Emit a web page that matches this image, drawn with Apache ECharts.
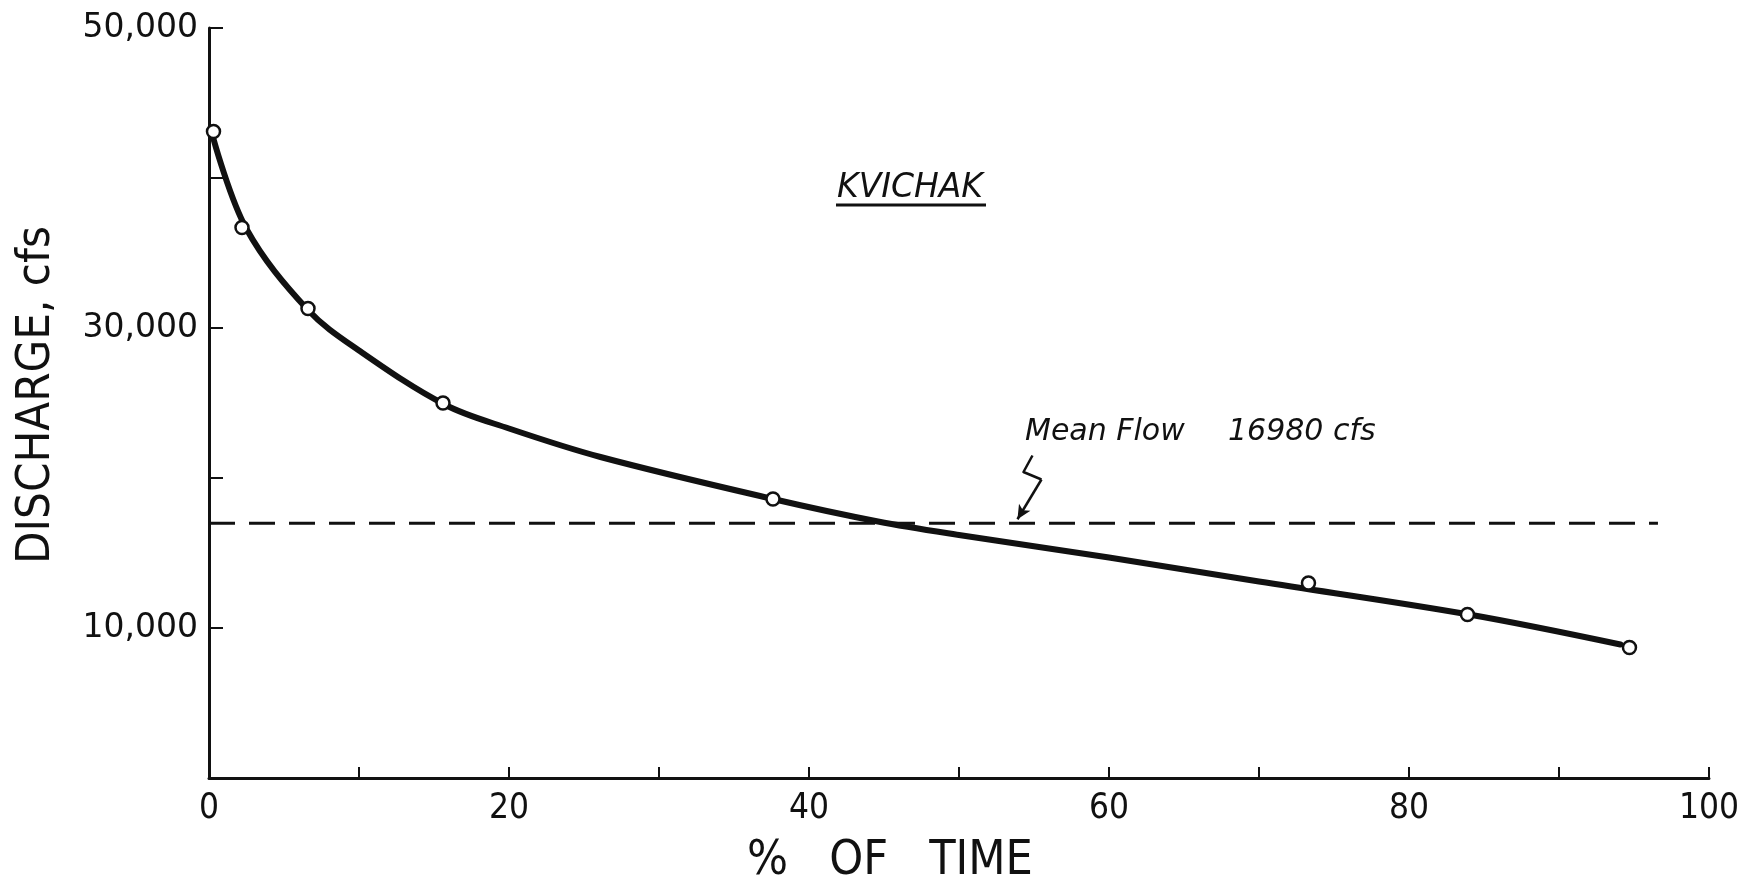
<!DOCTYPE html>
<html>
<head>
<meta charset="utf-8">
<script src="https://cdn.jsdelivr.net/npm/echarts@6/dist/echarts.min.js"></script>
<style>
  html, body { margin: 0; padding: 0; background: #ffffff; }
  #chart { width: 1742px; height: 887px; }
</style>
</head>
<body>
<div id="chart"></div>
<script>
// Observed points (% of time, discharge cfs)
const obsPercent = [0.3, 2.2, 6.6, 15.6, 37.6, 73.3, 83.9, 94.7];
const obsDischarge = [43100, 36700, 31300, 25000, 18600, 13000, 10900, 8700];

// Hand-drawn duration curve
const curvePercent = [0.3, 2.5, 6.6, 10, 15.7, 20, 26.1, 37.6, 44.6, 50, 60, 70, 84, 94.1];
const curveDischarge = [42600, 36600, 31200, 28500, 24900, 23300, 21400, 18600, 17100, 16200, 14700, 13100, 10900, 8900];

// Mean flow line
const meanFlow = 16980;
const meanFlowSpan = [0, 96.6];

// Arrow (squiggle) from label to mean-flow line
const arrowPercent = [54.9, 54.3, 55.5];
const arrowDischarge = [21500, 20400, 19900];
const arrowTip = [53.9, 17250];

// Tick labels
const xLabelValues = [0, 20, 40, 60, 80, 100];
const yLabelValues = [10000, 30000, 50000];
const yLabelTexts = ['10,000', '30,000', '50,000'];

const ink = '#111111';
const chart = echarts.init(document.getElementById('chart'), null, { renderer: 'canvas' });

const pairs = (xs, ys) => xs.map((x, i) => [x, ys[i]]);

const option = {
  backgroundColor: '#ffffff',
  animation: false,
  grid: { left: 209, right: 33, top: 28, bottom: 109, containLabel: false },
  xAxis: {
    type: 'value', min: 0, max: 100, interval: 10,
    axisLine: { show: true, lineStyle: { color: ink, width: 3 } },
    axisTick: { show: true, inside: true, length: 11, lineStyle: { color: ink, width: 2 } },
    axisLabel: {
      show: true, margin: 13, color: ink,
      fontFamily: "'DejaVu Sans Condensed', 'DejaVu Sans'",
      fontSize: 35,
      formatter: v => (xLabelValues.indexOf(v) >= 0 ? String(v) : '')
    },
    splitLine: { show: false }
  },
  yAxis: {
    type: 'value', min: 0, max: 50000, interval: 10000,
    axisLine: { show: true, lineStyle: { color: ink, width: 3 } },
    axisTick: { show: true, inside: true, length: 14, lineStyle: { color: ink, width: 2 } },
    axisLabel: {
      show: true, margin: 11, color: ink,
      fontFamily: "'DejaVu Sans'",
      fontSize: 33,
      formatter: v => { const i = yLabelValues.indexOf(v); return i >= 0 ? yLabelTexts[i] : ''; }
    },
    splitLine: { show: false }
  },
  series: [
    {
      name: 'Mean flow', type: 'line', silent: true,
      data: meanFlowSpan.map(x => [x, meanFlow]),
      showSymbol: false, symbol: 'none',
      lineStyle: { color: ink, width: 3, type: [26, 14] },
      z: 2
    },
    {
      name: 'Duration curve', type: 'line', silent: true,
      data: pairs(curvePercent, curveDischarge),
      smooth: 0.35,
      showSymbol: false, symbol: 'none',
      lineStyle: { color: ink, width: 6, cap: 'round', join: 'round' },
      z: 3
    },
    {
      name: 'Observed', type: 'scatter', silent: true,
      data: pairs(obsPercent, obsDischarge),
      symbol: 'circle', symbolSize: 13,
      itemStyle: { color: '#ffffff', borderColor: ink, borderWidth: 2.5, opacity: 1 },
      z: 4
    },
    {
      name: 'Arrow', type: 'line', silent: true,
      data: pairs(arrowPercent, arrowDischarge),
      showSymbol: false, symbol: 'none',
      lineStyle: { color: ink, width: 2.5, join: 'round' },
      markLine: {
        silent: true, symbol: ['none', 'arrow'], symbolSize: [10, 14],
        label: { show: false },
        lineStyle: { color: ink, width: 2.5, type: 'solid' },
        data: [[
          { coord: [arrowPercent[arrowPercent.length - 1], arrowDischarge[arrowDischarge.length - 1]] },
          { coord: arrowTip }
        ]]
      },
      z: 5
    }
  ],
  graphic: [
    {
      type: 'text', x: 37, y: 395, rotation: Math.PI / 2, silent: true,
      style: {
        text: 'DISCHARGE, cfs', fill: ink,
        font: "47px 'DejaVu Sans Condensed', 'DejaVu Sans'",
        align: 'center', verticalAlign: 'middle', textAlign: 'center', textVerticalAlign: 'middle'
      }
    },
    {
      type: 'text', x: 890, y: 862, silent: true,
      style: {
        text: '%\u00a0\u00a0\u00a0OF\u00a0\u00a0\u00a0TIME', fill: ink,
        font: "48px 'DejaVu Sans Condensed', 'DejaVu Sans'",
        align: 'center', verticalAlign: 'middle', textAlign: 'center', textVerticalAlign: 'middle'
      }
    },
    {
      type: 'text', x: 910, y: 188, silent: true,
      style: {
        text: 'KVICHAK', fill: ink,
        font: "italic 33px 'DejaVu Sans'",
        align: 'center', verticalAlign: 'middle', textAlign: 'center', textVerticalAlign: 'middle'
      }
    },
    {
      type: 'line', silent: true,
      shape: { x1: 836, y1: 205, x2: 986, y2: 205 },
      style: { stroke: ink, lineWidth: 3 }
    },
    {
      type: 'text', x: 1025, y: 432, silent: true,
      style: {
        text: 'Mean Flow', fill: ink,
        font: "italic 30px 'DejaVu Sans'",
        align: 'left', verticalAlign: 'middle', textAlign: 'left', textVerticalAlign: 'middle'
      }
    },
    {
      type: 'text', x: 1228, y: 432, silent: true,
      style: {
        text: '16980 cfs', fill: ink,
        font: "italic 30px 'DejaVu Sans'",
        align: 'left', verticalAlign: 'middle', textAlign: 'left', textVerticalAlign: 'middle'
      }
    }
  ]
};

chart.setOption(option);
</script>
</body>
</html>
